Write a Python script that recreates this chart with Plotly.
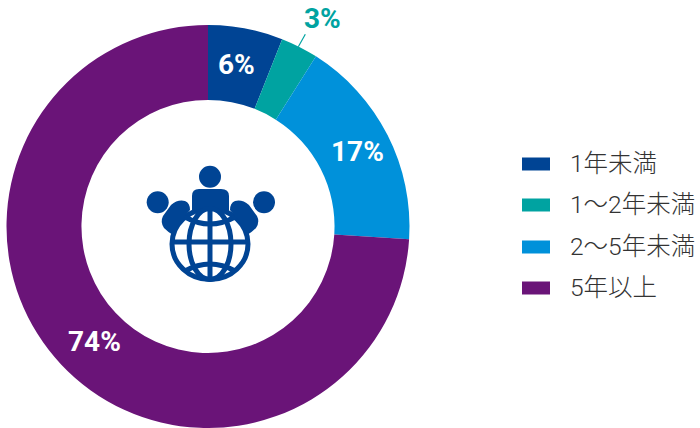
import plotly.graph_objects as go

W, H = 700, 428

categories = ["1年未満", "1〜2年未満", "2〜5年未満", "5年以上"]
percent = [6, 3, 17, 74]
colors = ["#004494", "#00A3A1", "#0091DA", "#6A1478"]
label_colors = ["#FFFFFF", "#00A3A1", "#FFFFFF", "#FFFFFF"]
label_x = [236, 322, 357.5, 94]
label_y = [64, 19, 151, 341]

LABEL_FONT = "Roboto, Noto Sans, sans-serif"
LEGEND_FONT = "Roboto, Noto Sans CJK JP, sans-serif"
ICON = "#004494"


def px(x):
    return x / W


def py(y):
    return 1 - y / H


def ellipse(cx, cy, rx, ry, fill=ICON, line=None, width=0):
    return dict(type="circle", xref="paper", yref="paper",
                x0=px(cx - rx), x1=px(cx + rx), y0=py(cy + ry), y1=py(cy - ry),
                fillcolor=fill, line=dict(color=line or fill, width=width), layer="above")


def path(points, close=True, fill=ICON, line=None, width=0):
    """points: list of ('M'|'L'|'Q', coords...) in page pixels."""
    parts = []
    for seg in points:
        cmd, coords = seg[0], seg[1:]
        vals = []
        for i in range(0, len(coords), 2):
            vals.append(f"{px(coords[i]):.5f},{py(coords[i + 1]):.5f}")
        parts.append(cmd + " ".join(vals))
    d = " ".join(parts) + (" Z" if close else "")
    return dict(type="path", xref="paper", yref="paper", path=d,
                fillcolor=fill if close else "rgba(0,0,0,0)",
                line=dict(color=line or fill, width=width), layer="above")


def stroke(points):
    return path(points, close=False, fill=ICON, line=ICON, width=5)


fig = go.Figure(go.Pie(
    labels=categories,
    values=percent,
    marker=dict(colors=colors, line=dict(width=0)),
    hole=0.628,
    sort=False,
    direction="clockwise",
    rotation=0,
    textinfo="none",
    domain=dict(x=[px(6.5), px(409.5)], y=[0, py(25)]),
    showlegend=False,
    hoverinfo="label+percent",
))

shapes = []
annotations = []

# Value labels
for p, col, x, y in zip(percent, label_colors, label_x, label_y):
    annotations.append(dict(text=f"<b>{p}%</b>", xref="paper", yref="paper",
                            x=px(x), y=py(y), showarrow=False,
                            xanchor="center", yanchor="middle",
                            font=dict(family=LABEL_FONT, size=28, color=col)))

# Leader for the narrow slice
shapes.append(dict(type="line", xref="paper", yref="paper",
                   x0=px(305.3), y0=py(34.3), x1=px(298.3), y1=py(46.7),
                   line=dict(color=colors[1], width=1.2)))

# Legend rows
legend_y = [164, 205, 247, 288]
for name, col, y in zip(categories, colors, legend_y):
    shapes.append(dict(type="rect", xref="paper", yref="paper",
                       x0=px(522), x1=px(550), y0=py(y + 6.5), y1=py(y - 6.5),
                       fillcolor=col, line=dict(width=0)))
    annotations.append(dict(text=name, xref="paper", yref="paper",
                            x=px(568), y=py(y - 0.5), showarrow=False,
                            xanchor="left", yanchor="middle",
                            font=dict(family=LEGEND_FONT, size=24.5, color="#333333", weight=300)))

# Globe outline goes under the figures so their shoulders merge with it
gx, gy, grx, gry = 210, 244, 38, 35.5
shapes.append(ellipse(gx, gy, grx, gry, fill="#FFFFFF", line=ICON, width=5))

# People around the globe
shapes += [ellipse(210, 176.7, 11, 11), ellipse(157.7, 202.3, 11, 11), ellipse(264, 202.3, 11, 11)]
shapes.append(path([("M", 192, 211), ("L", 192, 196), ("Q", 192, 189, 199, 189),
                    ("L", 221, 189), ("Q", 229, 189, 229, 196), ("L", 229, 211),
                    ("Q", 210, 206, 192, 211)]))
for mirror in (False, True):
    m = (lambda x: 420 - x) if mirror else (lambda x: x)
    shapes.append(path([("M", m(163), 216), ("L", m(171), 205), ("Q", m(178), 199, m(185), 201),
                        ("Q", m(190), 203, m(190), 210), ("L", m(177), 226), ("L", m(173), 235),
                        ("Q", m(168), 232, m(164), 228), ("Q", m(160), 222, m(163), 216)]))

# Globe grid
shapes.append(stroke([("M", gx, gy - gry), ("L", gx, gy + gry)]))
shapes.append(stroke([("M", gx - grx, gy - 2), ("L", gx + grx, gy - 2)]))
shapes.append(ellipse(gx, gy, 21, gry, fill="rgba(0,0,0,0)", line=ICON, width=5))
shapes.append(stroke([("M", gx - 25, gy - 27), ("Q", gx, gy - 13, gx + 25, gy - 27)]))
shapes.append(stroke([("M", gx - 25, gy + 27), ("Q", gx, gy + 13, gx + 25, gy + 27)]))

fig.update_layout(
    width=W, height=H,
    margin=dict(l=0, r=0, t=0, b=0),
    paper_bgcolor="#FFFFFF",
    shapes=shapes,
    annotations=annotations,
)

fig.write_html("out.html", config=dict(displayModeBar=False))
